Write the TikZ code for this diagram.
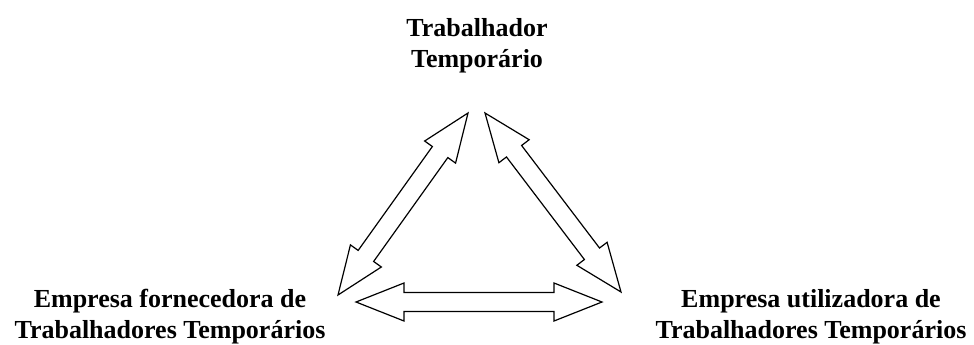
\documentclass[tikz,border=0pt]{standalone}
\usepackage{fontspec}
\setmainfont{Liberation Serif}
\usepackage{tikz}
\newcommand{\lWorker}{Trabalhador\\Temporário}
\newcommand{\lSupplier}{Empresa fornecedora de\\Trabalhadores Temporários}
\newcommand{\lUser}{Empresa utilizadora de\\Trabalhadores Temporários}
\newcommand{\arrHead}{48pt}
\newcommand{\arrHalf}{19pt}
\newcommand{\arrShaft}{9.5pt}
% hollow arrow with a head at both ends
\newcommand{\fatArrow}[2]{%
  \draw[fat arrow] (#1)
    -- ($(#1)!\arrHead!(#2)!\arrHalf!90:(#2)$)
    -- ($(#1)!\arrHead!(#2)!\arrShaft!90:(#2)$)
    -- ($(#2)!\arrHead!(#1)!\arrShaft!-90:(#1)$)
    -- ($(#2)!\arrHead!(#1)!\arrHalf!-90:(#1)$)
    -- (#2)
    -- ($(#2)!\arrHead!(#1)!\arrHalf!90:(#1)$)
    -- ($(#2)!\arrHead!(#1)!\arrShaft!90:(#1)$)
    -- ($(#1)!\arrHead!(#2)!\arrShaft!-90:(#2)$)
    -- ($(#1)!\arrHead!(#2)!\arrHalf!-90:(#2)$)
    -- cycle;}
\usetikzlibrary{calc}

\begin{document}
\begin{tikzpicture} [
        x=1pt, y=-1pt,
        font=\bfseries\fontsize{26}{31}\selectfont,
        label/.style={align=center, inner sep=0pt},
        fat arrow/.style={draw, line width=1.2pt, line join=miter}
    ]

    \useasboundingbox (0,0) rectangle (974,345);

    \node[label] (worker) at (477,46) {\lWorker};
    \node[label] (supplier) at (170,317) {\lSupplier};
    \node[label] (user) at (811,317) {\lUser};

    \coordinate (worker left) at (468,113);
    \coordinate (worker right) at (485,113);
    \coordinate (supplier top) at (338,295);
    \coordinate (supplier side) at (356,302);
    \coordinate (user top) at (621,292);
    \coordinate (user side) at (602,302);

    \fatArrow{supplier top}{worker left}
    \fatArrow{worker right}{user top}
    \fatArrow{supplier side}{user side}

\end{tikzpicture}
\end{document}
